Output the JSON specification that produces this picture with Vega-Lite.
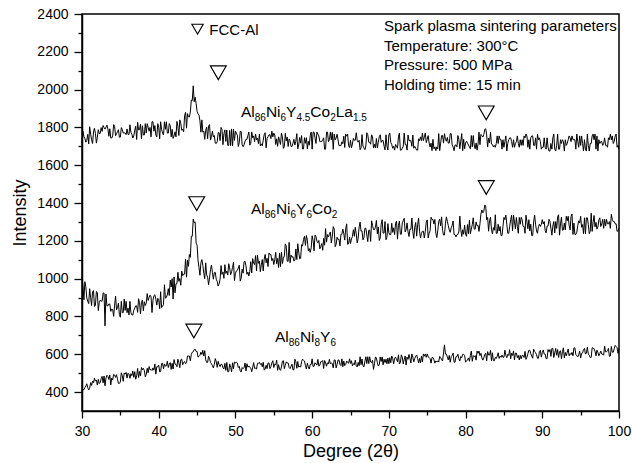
{
"$schema":"https://vega.github.io/schema/vega-lite/v6.json",
"width":537,"height":397,
"autosize":{"type":"none"},
"padding":{"left":82,"top":14,"right":13,"bottom":52},
"config":{"view":{"stroke":"black","strokeWidth":1.5},"font":"Liberation Sans",
"axis":{"domainColor":"black","domainWidth":1.5,"tickColor":"black","tickWidth":1.3,"labelColor":"black","titleColor":"black","grid":false,"labelFont":"Liberation Sans","titleFont":"Liberation Sans","titleFontWeight":"normal","labelFontSize":14,"titleFontSize":18,"labelFlush":false,"labelOverlap":false}},
"resolve":{"axis":{"x":"independent","y":"independent"}},
"datasets":{
"xrd":[
{"x":30,"a":1720,"b":1005,"c":395},{"x":30.25,"a":1751,"b":888,"c":412},{"x":30.5,"a":1722,"b":957,"c":432},{"x":30.75,"a":1763,"b":880,"c":423},
{"x":31,"a":1804,"b":947,"c":420},{"x":31.25,"a":1735,"b":858,"c":435},{"x":31.5,"a":1776,"b":937,"c":449},{"x":31.75,"a":1767,"b":860,"c":458},
{"x":32,"a":1748,"b":927,"c":437},{"x":32.25,"a":1768,"b":874,"c":445},{"x":32.5,"a":1799,"b":881,"c":471},{"x":32.75,"a":1810,"b":924,"c":449},
{"x":33,"a":1791,"b":750,"c":433},{"x":33.25,"a":1812,"b":856,"c":489},{"x":33.5,"a":1753,"b":866,"c":467},{"x":33.75,"a":1744,"b":827,"c":438},
{"x":34,"a":1755,"b":837,"c":464},{"x":34.25,"a":1806,"b":860,"c":490},{"x":34.5,"a":1767,"b":835,"c":492},{"x":34.75,"a":1788,"b":870,"c":446},
{"x":35,"a":1749,"b":796,"c":454},{"x":35.25,"a":1790,"b":820,"c":487},{"x":35.5,"a":1771,"b":892,"c":501},{"x":35.75,"a":1762,"b":880,"c":504},
{"x":36,"a":1763,"b":844,"c":500},{"x":36.25,"a":1814,"b":880,"c":473},{"x":36.5,"a":1764,"b":808,"c":487},{"x":36.75,"a":1755,"b":832,"c":478},
{"x":37,"a":1806,"b":856,"c":468},{"x":37.25,"a":1827,"b":822,"c":525},{"x":37.5,"a":1788,"b":873,"c":509},{"x":37.75,"a":1739,"b":875,"c":530},
{"x":38,"a":1760,"b":830,"c":526},{"x":38.25,"a":1820,"b":858,"c":481},{"x":38.5,"a":1820,"b":921,"c":526},{"x":38.75,"a":1780,"b":901,"c":535},
{"x":39,"a":1750,"b":905,"c":520},{"x":39.25,"a":1830,"b":886,"c":528},{"x":39.5,"a":1810,"b":915,"c":549},{"x":39.75,"a":1750,"b":860,"c":534},
{"x":40,"a":1800,"b":889,"c":543},{"x":40.25,"a":1830,"b":931,"c":509},{"x":40.5,"a":1770,"b":853,"c":553},{"x":40.75,"a":1830,"b":968,"c":549},
{"x":41,"a":1830,"b":902,"c":539},{"x":41.25,"a":1770,"b":947,"c":530},{"x":41.5,"a":1810,"b":992,"c":556},{"x":41.75,"a":1790,"b":1000,"c":552},
{"x":42,"a":1755,"b":1009,"c":572},{"x":42.25,"a":1750,"b":973,"c":546},{"x":42.5,"a":1805,"b":1034,"c":574},{"x":42.75,"a":1840,"b":1001,"c":529},
{"x":43,"a":1785,"b":1040,"c":575},{"x":43.25,"a":1777,"b":1024,"c":556},{"x":43.5,"a":1880,"b":1104,"c":550},{"x":43.75,"a":1873,"b":1098,"c":591},
{"x":44,"a":1855,"b":1128,"c":591},{"x":44.25,"a":1945,"b":1224,"c":599},{"x":44.5,"a":2020,"b":1315,"c":613},{"x":44.75,"a":1960,"b":1300,"c":627},
{"x":45,"a":1885,"b":1178,"c":615},{"x":45.25,"a":1865,"b":1060,"c":589},{"x":45.5,"a":1775,"b":1085,"c":611},{"x":45.75,"a":1775,"b":1070,"c":621},
{"x":46,"a":1737,"b":1000,"c":619},{"x":46.25,"a":1802,"b":1020,"c":557},{"x":46.5,"a":1807,"b":968,"c":590},{"x":46.75,"a":1733,"b":1048,"c":556},
{"x":47,"a":1780,"b":1033,"c":540},{"x":47.25,"a":1757,"b":1033,"c":547},{"x":47.5,"a":1715,"b":997,"c":561},{"x":47.75,"a":1772,"b":961,"c":563},
{"x":48,"a":1730,"b":997,"c":535},{"x":48.25,"a":1789,"b":1023,"c":546},{"x":48.5,"a":1767,"b":1002,"c":522},{"x":48.75,"a":1726,"b":1028,"c":515},
{"x":49,"a":1705,"b":1019,"c":508},{"x":49.25,"a":1784,"b":1057,"c":549},{"x":49.5,"a":1792,"b":1036,"c":507},{"x":49.75,"a":1791,"b":1086,"c":524},
{"x":50,"a":1780,"b":1029,"c":553},{"x":50.25,"a":1759,"b":1044,"c":554},{"x":50.5,"a":1719,"b":1071,"c":536},{"x":50.75,"a":1778,"b":1002,"c":506},
{"x":51,"a":1698,"b":1029,"c":524},{"x":51.25,"a":1727,"b":1092,"c":554},{"x":51.5,"a":1737,"b":1023,"c":550},{"x":51.75,"a":1776,"b":1014,"c":538},
{"x":52,"a":1716,"b":1090,"c":526},{"x":52.25,"a":1745,"b":1106,"c":532},{"x":52.5,"a":1725,"b":1074,"c":526},{"x":52.75,"a":1734,"b":1041,"c":522},
{"x":53,"a":1714,"b":1081,"c":552},{"x":53.25,"a":1703,"b":1037,"c":546},{"x":53.5,"a":1703,"b":1101,"c":534},{"x":53.75,"a":1762,"b":1104,"c":516},
{"x":54,"a":1692,"b":1084,"c":542},{"x":54.25,"a":1751,"b":1064,"c":554},{"x":54.5,"a":1761,"b":1128,"c":524},{"x":54.75,"a":1780,"b":1095,"c":554},
{"x":55,"a":1770,"b":1075,"c":530},{"x":55.25,"a":1710,"b":1139,"c":545},{"x":55.5,"a":1700,"b":1107,"c":515},{"x":55.75,"a":1730,"b":1136,"c":521},
{"x":56,"a":1770,"b":1140,"c":533},{"x":56.25,"a":1689,"b":1108,"c":566},{"x":56.5,"a":1769,"b":1184,"c":542},{"x":56.75,"a":1749,"b":1092,"c":554},
{"x":57,"a":1739,"b":1192,"c":530},{"x":57.25,"a":1699,"b":1125,"c":536},{"x":57.5,"a":1717,"b":1117,"c":518},{"x":57.75,"a":1707,"b":1097,"c":574},
{"x":58,"a":1767,"b":1101,"c":526},{"x":58.25,"a":1707,"b":1141,"c":532},{"x":58.5,"a":1717,"b":1108,"c":532},{"x":58.75,"a":1686,"b":1172,"c":574},
{"x":59,"a":1746,"b":1224,"c":564},{"x":59.25,"a":1746,"b":1228,"c":522},{"x":59.5,"a":1726,"b":1147,"c":534},{"x":59.75,"a":1756,"b":1139,"c":546},
{"x":60,"a":1685,"b":1227,"c":576},{"x":60.25,"a":1775,"b":1147,"c":537},{"x":60.5,"a":1715,"b":1222,"c":549},{"x":60.75,"a":1765,"b":1190,"c":573},
{"x":61,"a":1725,"b":1158,"c":543},{"x":61.25,"a":1725,"b":1186,"c":561},{"x":61.5,"a":1745,"b":1213,"c":525},{"x":61.75,"a":1685,"b":1265,"c":555},
{"x":62,"a":1775,"b":1233,"c":555},{"x":62.25,"a":1735,"b":1235,"c":573},{"x":62.5,"a":1734,"b":1189,"c":555},{"x":62.75,"a":1684,"b":1275,"c":528},
{"x":63,"a":1734,"b":1169,"c":570},{"x":63.25,"a":1764,"b":1219,"c":546},{"x":63.5,"a":1704,"b":1209,"c":570},{"x":63.75,"a":1704,"b":1235,"c":540},
{"x":64,"a":1714,"b":1262,"c":534},{"x":64.25,"a":1694,"b":1204,"c":540},{"x":64.5,"a":1754,"b":1290,"c":564},{"x":64.75,"a":1704,"b":1184,"c":552},
{"x":65,"a":1732,"b":1186,"c":552},{"x":65.25,"a":1712,"b":1223,"c":539},{"x":65.5,"a":1732,"b":1224,"c":545},{"x":65.75,"a":1772,"b":1237,"c":539},
{"x":66,"a":1722,"b":1214,"c":557},{"x":66.25,"a":1682,"b":1299,"c":587},{"x":66.5,"a":1762,"b":1253,"c":575},{"x":66.75,"a":1692,"b":1218,"c":533},
{"x":67,"a":1702,"b":1267,"c":587},{"x":67.25,"a":1762,"b":1196,"c":587},{"x":67.5,"a":1721,"b":1257,"c":587},{"x":67.75,"a":1761,"b":1306,"c":556},
{"x":68,"a":1691,"b":1259,"c":520},{"x":68.25,"a":1691,"b":1272,"c":586},{"x":68.5,"a":1691,"b":1237,"c":556},{"x":68.75,"a":1751,"b":1202,"c":544},
{"x":69,"a":1721,"b":1288,"c":562},{"x":69.25,"a":1731,"b":1241,"c":544},{"x":69.5,"a":1681,"b":1302,"c":556},{"x":69.75,"a":1701,"b":1219,"c":550},
{"x":70,"a":1760,"b":1244,"c":550},{"x":70.25,"a":1720,"b":1233,"c":555},{"x":70.5,"a":1690,"b":1245,"c":579},{"x":70.75,"a":1680,"b":1233,"c":579},
{"x":71,"a":1700,"b":1305,"c":573},{"x":71.25,"a":1750,"b":1281,"c":597},{"x":71.5,"a":1680,"b":1235,"c":555},{"x":71.75,"a":1690,"b":1295,"c":585},
{"x":72,"a":1770,"b":1319,"c":573},{"x":72.25,"a":1710,"b":1259,"c":543},{"x":72.5,"a":1760,"b":1247,"c":573},{"x":72.75,"a":1730,"b":1261,"c":578},
{"x":73,"a":1700,"b":1321,"c":602},{"x":73.25,"a":1690,"b":1213,"c":560},{"x":73.5,"a":1690,"b":1297,"c":590},{"x":73.75,"a":1680,"b":1285,"c":578},
{"x":74,"a":1730,"b":1251,"c":578},{"x":74.25,"a":1730,"b":1239,"c":590},{"x":74.5,"a":1730,"b":1251,"c":602},{"x":74.75,"a":1770,"b":1251,"c":602},
{"x":75,"a":1737,"b":1311,"c":602},{"x":75.25,"a":1717,"b":1241,"c":583},{"x":75.5,"a":1717,"b":1325,"c":553},{"x":75.75,"a":1737,"b":1313,"c":583},
{"x":76,"a":1697,"b":1313,"c":553},{"x":76.25,"a":1697,"b":1217,"c":559},{"x":76.5,"a":1767,"b":1303,"c":559},{"x":76.75,"a":1717,"b":1279,"c":583},
{"x":77,"a":1757,"b":1255,"c":565},{"x":77.25,"a":1767,"b":1231,"c":650},{"x":77.5,"a":1727,"b":1327,"c":601},{"x":77.75,"a":1717,"b":1281,"c":570},
{"x":78,"a":1767,"b":1245,"c":558},{"x":78.25,"a":1707,"b":1281,"c":594},{"x":78.5,"a":1677,"b":1233,"c":558},{"x":78.75,"a":1707,"b":1221,"c":588},
{"x":79,"a":1757,"b":1235,"c":600},{"x":79.25,"a":1687,"b":1331,"c":564},{"x":79.5,"a":1767,"b":1223,"c":582},{"x":79.75,"a":1737,"b":1235,"c":600},
{"x":80,"a":1717,"b":1235,"c":558},{"x":80.25,"a":1717,"b":1286,"c":569},{"x":80.5,"a":1697,"b":1310,"c":563},{"x":80.75,"a":1757,"b":1262,"c":617},
{"x":81,"a":1757,"b":1322,"c":593},{"x":81.25,"a":1687,"b":1262,"c":593},{"x":81.5,"a":1680,"b":1279,"c":617},{"x":81.75,"a":1775,"b":1250,"c":617},
{"x":82,"a":1763,"b":1342,"c":605},{"x":82.25,"a":1749,"b":1348,"c":569},{"x":82.5,"a":1790,"b":1389,"c":599},{"x":82.75,"a":1760,"b":1312,"c":566},
{"x":83,"a":1743,"b":1251,"c":596},{"x":83.25,"a":1775,"b":1325,"c":620},{"x":83.5,"a":1710,"b":1236,"c":608},{"x":83.75,"a":1705,"b":1256,"c":566},
{"x":84,"a":1715,"b":1240,"c":578},{"x":84.25,"a":1715,"b":1288,"c":608},{"x":84.5,"a":1735,"b":1276,"c":590},{"x":84.75,"a":1685,"b":1228,"c":596},
{"x":85,"a":1695,"b":1324,"c":584},{"x":85.25,"a":1755,"b":1336,"c":594},{"x":85.5,"a":1715,"b":1240,"c":600},{"x":85.75,"a":1745,"b":1276,"c":624},
{"x":86,"a":1725,"b":1336,"c":606},{"x":86.25,"a":1735,"b":1336,"c":618},{"x":86.5,"a":1715,"b":1264,"c":606},{"x":86.75,"a":1755,"b":1276,"c":582},
{"x":87,"a":1695,"b":1324,"c":570},{"x":87.25,"a":1705,"b":1324,"c":576},{"x":87.5,"a":1705,"b":1276,"c":594},{"x":87.75,"a":1745,"b":1240,"c":615},
{"x":88,"a":1755,"b":1300,"c":585},{"x":88.25,"a":1735,"b":1312,"c":621},{"x":88.5,"a":1745,"b":1288,"c":603},{"x":88.75,"a":1755,"b":1228,"c":579},
{"x":89,"a":1705,"b":1336,"c":615},{"x":89.25,"a":1685,"b":1252,"c":597},{"x":89.5,"a":1735,"b":1276,"c":579},{"x":89.75,"a":1725,"b":1276,"c":621},
{"x":90,"a":1695,"b":1312,"c":609},{"x":90.25,"a":1745,"b":1302,"c":601},{"x":90.5,"a":1685,"b":1242,"c":577},{"x":90.75,"a":1695,"b":1278,"c":625},
{"x":91,"a":1675,"b":1302,"c":625},{"x":91.25,"a":1685,"b":1230,"c":631},{"x":91.5,"a":1765,"b":1302,"c":583},{"x":91.75,"a":1675,"b":1302,"c":631},
{"x":92,"a":1765,"b":1326,"c":625},{"x":92.25,"a":1685,"b":1230,"c":613},{"x":92.5,"a":1715,"b":1326,"c":577},{"x":92.75,"a":1725,"b":1258,"c":634},
{"x":93,"a":1735,"b":1258,"c":610},{"x":93.25,"a":1715,"b":1306,"c":610},{"x":93.5,"a":1755,"b":1282,"c":592},{"x":93.75,"a":1725,"b":1330,"c":598},
{"x":94,"a":1735,"b":1234,"c":592},{"x":94.25,"a":1735,"b":1234,"c":634},{"x":94.5,"a":1765,"b":1246,"c":592},{"x":94.75,"a":1695,"b":1306,"c":598},
{"x":95,"a":1705,"b":1330,"c":580},{"x":95.25,"a":1715,"b":1286,"c":607},{"x":95.5,"a":1735,"b":1322,"c":631},{"x":95.75,"a":1675,"b":1322,"c":607},
{"x":96,"a":1705,"b":1286,"c":601},{"x":96.25,"a":1715,"b":1250,"c":583},{"x":96.5,"a":1755,"b":1250,"c":634},{"x":96.75,"a":1735,"b":1334,"c":628},
{"x":97,"a":1685,"b":1298,"c":592},{"x":97.25,"a":1675,"b":1274,"c":610},{"x":97.5,"a":1715,"b":1322,"c":604},{"x":97.75,"a":1725,"b":1290,"c":601},
{"x":98,"a":1715,"b":1266,"c":595},{"x":98.25,"a":1705,"b":1278,"c":613},{"x":98.5,"a":1695,"b":1290,"c":619},{"x":98.75,"a":1735,"b":1302,"c":589},
{"x":99,"a":1735,"b":1340,"c":641},{"x":99.25,"a":1715,"b":1302,"c":611},{"x":99.5,"a":1755,"b":1290,"c":647},{"x":99.75,"a":1695,"b":1250,"c":635},
{"x":100,"a":1685,"b":1266,"c":629},
{"x":30.125,"a":1780,"b":963,"c":415},{"x":30.375,"a":1741,"b":984,"c":424},{"x":30.625,"a":1732,"b":897,"c":444},{"x":30.875,"a":1713,"b":868,"c":411},
{"x":31.125,"a":1764,"b":899,"c":450},{"x":31.375,"a":1715,"b":930,"c":459},{"x":31.625,"a":1796,"b":853,"c":473},{"x":31.875,"a":1717,"b":932,"c":464},
{"x":32.125,"a":1788,"b":831,"c":467},{"x":32.375,"a":1768,"b":886,"c":451},{"x":32.625,"a":1779,"b":881,"c":483},{"x":32.875,"a":1800,"b":924,"c":485},
{"x":33.125,"a":1801,"b":919,"c":475},{"x":33.375,"a":1792,"b":856,"c":483},{"x":33.625,"a":1793,"b":866,"c":491},{"x":33.875,"a":1744,"b":839,"c":474},
{"x":34.125,"a":1815,"b":801,"c":494},{"x":34.375,"a":1756,"b":908,"c":478},{"x":34.625,"a":1777,"b":847,"c":468},{"x":34.875,"a":1748,"b":810,"c":446},
{"x":35.125,"a":1799,"b":880,"c":502},{"x":35.375,"a":1770,"b":820,"c":457},{"x":35.625,"a":1771,"b":832,"c":495},{"x":35.875,"a":1792,"b":820,"c":474},
{"x":36.125,"a":1763,"b":808,"c":494},{"x":36.375,"a":1774,"b":820,"c":497},{"x":36.625,"a":1744,"b":808,"c":511},{"x":36.875,"a":1785,"b":844,"c":508},
{"x":37.125,"a":1736,"b":856,"c":486},{"x":37.375,"a":1787,"b":894,"c":477},{"x":37.625,"a":1818,"b":813,"c":485},{"x":37.875,"a":1809,"b":887,"c":518},
{"x":38.125,"a":1760,"b":878,"c":514},{"x":38.375,"a":1770,"b":870,"c":493},{"x":38.625,"a":1800,"b":885,"c":502},{"x":38.875,"a":1800,"b":913,"c":517},
{"x":39.125,"a":1830,"b":821,"c":514},{"x":39.375,"a":1780,"b":910,"c":516},{"x":39.625,"a":1760,"b":891,"c":495},{"x":39.875,"a":1820,"b":896,"c":534},
{"x":40.125,"a":1740,"b":841,"c":507},{"x":40.375,"a":1790,"b":847,"c":551},{"x":40.625,"a":1760,"b":865,"c":523},{"x":40.875,"a":1790,"b":896,"c":537},
{"x":41.125,"a":1770,"b":914,"c":563},{"x":41.375,"a":1820,"b":911,"c":548},{"x":41.625,"a":1750,"b":956,"c":520},{"x":41.875,"a":1742,"b":892,"c":522},
{"x":42.125,"a":1777,"b":925,"c":548},{"x":42.375,"a":1832,"b":973,"c":534},{"x":42.625,"a":1757,"b":986,"c":556},{"x":42.875,"a":1822,"b":965,"c":571},
{"x":43.125,"a":1791,"b":1016,"c":545},{"x":43.375,"a":1863,"b":1024,"c":562},{"x":43.625,"a":1796,"b":1008,"c":556},{"x":43.875,"a":1856,"b":1065,"c":591},
{"x":44.125,"a":1882,"b":1113,"c":565},{"x":44.375,"a":1942,"b":1224,"c":611},{"x":44.625,"a":1936,"b":1296,"c":625},{"x":44.875,"a":1927,"b":1188,"c":615},
{"x":45.125,"a":1872,"b":1098,"c":585},{"x":45.375,"a":1835,"b":1018,"c":595},{"x":45.625,"a":1840,"b":1101,"c":599},{"x":45.875,"a":1781,"b":1029,"c":591},
{"x":46.125,"a":1785,"b":1084,"c":571},{"x":46.375,"a":1740,"b":1008,"c":557},{"x":46.625,"a":1815,"b":1004,"c":578},{"x":46.875,"a":1751,"b":1072,"c":550},
{"x":47.125,"a":1750,"b":997,"c":528},{"x":47.375,"a":1717,"b":1033,"c":577},{"x":47.625,"a":1725,"b":985,"c":531},{"x":47.875,"a":1772,"b":973,"c":545},
{"x":48.125,"a":1800,"b":1069,"c":547},{"x":48.375,"a":1709,"b":1035,"c":528},{"x":48.625,"a":1787,"b":1074,"c":552},{"x":48.875,"a":1786,"b":1040,"c":557},
{"x":49.125,"a":1705,"b":1079,"c":508},{"x":49.375,"a":1704,"b":1021,"c":531},{"x":49.625,"a":1702,"b":1060,"c":555},{"x":49.875,"a":1731,"b":990,"c":560},
{"x":50.125,"a":1770,"b":1041,"c":559},{"x":50.375,"a":1699,"b":1056,"c":530},{"x":50.625,"a":1779,"b":987,"c":512},{"x":50.875,"a":1708,"b":1050,"c":530},
{"x":51.125,"a":1708,"b":1089,"c":530},{"x":51.375,"a":1737,"b":1068,"c":512},{"x":51.625,"a":1757,"b":1035,"c":532},{"x":51.875,"a":1706,"b":1038,"c":532},
{"x":52.125,"a":1776,"b":1030,"c":508},{"x":52.375,"a":1755,"b":1082,"c":556},{"x":52.625,"a":1765,"b":1122,"c":526},{"x":52.875,"a":1744,"b":1125,"c":552},
{"x":53.125,"a":1764,"b":1093,"c":558},{"x":53.375,"a":1713,"b":1073,"c":552},{"x":53.625,"a":1733,"b":1041,"c":558},{"x":53.875,"a":1772,"b":1128,"c":522},
{"x":54.125,"a":1742,"b":1108,"c":524},{"x":54.375,"a":1761,"b":1136,"c":554},{"x":54.625,"a":1741,"b":1128,"c":536},{"x":54.875,"a":1750,"b":1107,"c":566},
{"x":55.125,"a":1760,"b":1099,"c":548},{"x":55.375,"a":1740,"b":1079,"c":569},{"x":55.625,"a":1750,"b":1059,"c":545},{"x":55.875,"a":1710,"b":1064,"c":515},
{"x":56.125,"a":1750,"b":1080,"c":563},{"x":56.375,"a":1699,"b":1120,"c":524},{"x":56.625,"a":1729,"b":1172,"c":560},{"x":56.875,"a":1699,"b":1092,"c":554},
{"x":57.125,"a":1729,"b":1084,"c":524},{"x":57.375,"a":1699,"b":1113,"c":548},{"x":57.625,"a":1737,"b":1093,"c":518},{"x":57.875,"a":1727,"b":1157,"c":562},
{"x":58.125,"a":1687,"b":1185,"c":562},{"x":58.375,"a":1747,"b":1105,"c":538},{"x":58.625,"a":1757,"b":1180,"c":562},{"x":58.875,"a":1686,"b":1208,"c":568},
{"x":59.125,"a":1716,"b":1176,"c":540},{"x":59.375,"a":1686,"b":1204,"c":552},{"x":59.625,"a":1706,"b":1159,"c":522},{"x":59.875,"a":1776,"b":1163,"c":546},
{"x":60.125,"a":1775,"b":1203,"c":535},{"x":60.375,"a":1745,"b":1231,"c":555},{"x":60.625,"a":1775,"b":1198,"c":543},{"x":60.875,"a":1755,"b":1202,"c":537},
{"x":61.125,"a":1725,"b":1170,"c":561},{"x":61.375,"a":1735,"b":1150,"c":567},{"x":61.625,"a":1685,"b":1177,"c":567},{"x":61.875,"a":1775,"b":1193,"c":537},
{"x":62.125,"a":1725,"b":1221,"c":549},{"x":62.375,"a":1775,"b":1247,"c":549},{"x":62.625,"a":1774,"b":1225,"c":550},{"x":62.875,"a":1764,"b":1263,"c":570},
{"x":63.125,"a":1744,"b":1181,"c":528},{"x":63.375,"a":1734,"b":1207,"c":570},{"x":63.625,"a":1704,"b":1173,"c":546},{"x":63.875,"a":1724,"b":1235,"c":576},
{"x":64.125,"a":1754,"b":1238,"c":564},{"x":64.375,"a":1764,"b":1264,"c":546},{"x":64.625,"a":1764,"b":1182,"c":558},{"x":64.875,"a":1694,"b":1220,"c":576},
{"x":65.125,"a":1692,"b":1210,"c":566},{"x":65.375,"a":1742,"b":1259,"c":551},{"x":65.625,"a":1732,"b":1272,"c":569},{"x":65.875,"a":1732,"b":1189,"c":533},
{"x":66.125,"a":1732,"b":1274,"c":539},{"x":66.375,"a":1692,"b":1251,"c":545},{"x":66.625,"a":1702,"b":1205,"c":539},{"x":66.875,"a":1682,"b":1266,"c":563},
{"x":67.125,"a":1772,"b":1231,"c":551},{"x":67.375,"a":1722,"b":1256,"c":551},{"x":67.625,"a":1711,"b":1197,"c":559},{"x":67.875,"a":1751,"b":1282,"c":568},
{"x":68.125,"a":1711,"b":1259,"c":550},{"x":68.375,"a":1741,"b":1308,"c":580},{"x":68.625,"a":1721,"b":1273,"c":538},{"x":68.875,"a":1761,"b":1214,"c":586},
{"x":69.125,"a":1731,"b":1312,"c":586},{"x":69.375,"a":1701,"b":1241,"c":574},{"x":69.625,"a":1761,"b":1206,"c":574},{"x":69.875,"a":1681,"b":1291,"c":580},
{"x":70.125,"a":1770,"b":1232,"c":582},{"x":70.375,"a":1710,"b":1293,"c":591},{"x":70.625,"a":1700,"b":1269,"c":549},{"x":70.875,"a":1710,"b":1293,"c":585},
{"x":71.125,"a":1690,"b":1209,"c":561},{"x":71.375,"a":1770,"b":1305,"c":549},{"x":71.625,"a":1680,"b":1235,"c":597},{"x":71.875,"a":1700,"b":1307,"c":549},
{"x":72.125,"a":1710,"b":1247,"c":591},{"x":72.375,"a":1680,"b":1295,"c":585},{"x":72.625,"a":1730,"b":1223,"c":599},{"x":72.875,"a":1730,"b":1261,"c":554},
{"x":73.125,"a":1760,"b":1249,"c":584},{"x":73.375,"a":1700,"b":1273,"c":578},{"x":73.625,"a":1680,"b":1225,"c":596},{"x":73.875,"a":1740,"b":1321,"c":554},
{"x":74.125,"a":1750,"b":1215,"c":554},{"x":74.375,"a":1770,"b":1251,"c":560},{"x":74.625,"a":1750,"b":1215,"c":590},{"x":74.875,"a":1720,"b":1299,"c":584},
{"x":75.125,"a":1757,"b":1215,"c":586},{"x":75.375,"a":1697,"b":1253,"c":577},{"x":75.625,"a":1677,"b":1313,"c":583},{"x":75.875,"a":1687,"b":1289,"c":571},
{"x":76.125,"a":1677,"b":1241,"c":565},{"x":76.375,"a":1687,"b":1253,"c":565},{"x":76.625,"a":1677,"b":1315,"c":589},{"x":76.875,"a":1757,"b":1327,"c":571},
{"x":77.125,"a":1717,"b":1231,"c":607},{"x":77.375,"a":1737,"b":1291,"c":601},{"x":77.625,"a":1747,"b":1303,"c":585},{"x":77.875,"a":1717,"b":1257,"c":594},
{"x":78.125,"a":1767,"b":1269,"c":588},{"x":78.375,"a":1697,"b":1305,"c":606},{"x":78.625,"a":1707,"b":1233,"c":558},{"x":78.875,"a":1697,"b":1233,"c":588},
{"x":79.125,"a":1737,"b":1247,"c":576},{"x":79.375,"a":1727,"b":1259,"c":588},{"x":79.625,"a":1677,"b":1259,"c":600},{"x":79.875,"a":1687,"b":1283,"c":594},
{"x":80.125,"a":1727,"b":1224,"c":566},{"x":80.375,"a":1707,"b":1238,"c":581},{"x":80.625,"a":1687,"b":1238,"c":593},{"x":80.875,"a":1697,"b":1286,"c":563},
{"x":81.125,"a":1707,"b":1262,"c":587},{"x":81.375,"a":1718,"b":1300,"c":569},{"x":81.625,"a":1712,"b":1282,"c":605},{"x":81.875,"a":1709,"b":1290,"c":593},
{"x":82.125,"a":1756,"b":1363,"c":581},{"x":82.375,"a":1762,"b":1356,"c":581},{"x":82.625,"a":1793,"b":1386,"c":606},{"x":82.875,"a":1696,"b":1324,"c":614},
{"x":83.125,"a":1719,"b":1306,"c":596},{"x":83.375,"a":1712,"b":1262,"c":566},{"x":83.625,"a":1697,"b":1270,"c":566},{"x":83.875,"a":1695,"b":1338,"c":584},
{"x":84.125,"a":1755,"b":1240,"c":590},{"x":84.375,"a":1755,"b":1252,"c":578},{"x":84.625,"a":1735,"b":1228,"c":584},{"x":84.875,"a":1735,"b":1276,"c":584},
{"x":85.125,"a":1725,"b":1312,"c":622},{"x":85.375,"a":1675,"b":1288,"c":582},{"x":85.625,"a":1735,"b":1240,"c":594},{"x":85.875,"a":1745,"b":1312,"c":576},
{"x":86.125,"a":1695,"b":1252,"c":594},{"x":86.375,"a":1695,"b":1300,"c":570},{"x":86.625,"a":1725,"b":1324,"c":606},{"x":86.875,"a":1715,"b":1240,"c":594},
{"x":87.125,"a":1735,"b":1288,"c":594},{"x":87.375,"a":1735,"b":1312,"c":594},{"x":87.625,"a":1755,"b":1276,"c":583},{"x":87.875,"a":1765,"b":1336,"c":573},
{"x":88.125,"a":1695,"b":1264,"c":603},{"x":88.375,"a":1685,"b":1252,"c":621},{"x":88.625,"a":1755,"b":1228,"c":591},{"x":88.875,"a":1705,"b":1300,"c":627},
{"x":89.125,"a":1745,"b":1288,"c":609},{"x":89.375,"a":1765,"b":1240,"c":579},{"x":89.625,"a":1745,"b":1288,"c":615},{"x":89.875,"a":1685,"b":1288,"c":585},
{"x":90.125,"a":1695,"b":1289,"c":623},{"x":90.375,"a":1695,"b":1254,"c":601},{"x":90.625,"a":1745,"b":1278,"c":577},{"x":90.875,"a":1675,"b":1314,"c":613},
{"x":91.125,"a":1715,"b":1266,"c":589},{"x":91.375,"a":1745,"b":1278,"c":631},{"x":91.625,"a":1685,"b":1242,"c":607},{"x":91.875,"a":1705,"b":1266,"c":595},
{"x":92.125,"a":1685,"b":1338,"c":583},{"x":92.375,"a":1735,"b":1290,"c":619},{"x":92.625,"a":1735,"b":1256,"c":614},{"x":92.875,"a":1675,"b":1294,"c":580},
{"x":93.125,"a":1705,"b":1330,"c":592},{"x":93.375,"a":1735,"b":1330,"c":628},{"x":93.625,"a":1745,"b":1258,"c":604},{"x":93.875,"a":1755,"b":1342,"c":610},
{"x":94.125,"a":1735,"b":1294,"c":634},{"x":94.375,"a":1685,"b":1234,"c":598},{"x":94.625,"a":1725,"b":1282,"c":586},{"x":94.875,"a":1755,"b":1294,"c":616},
{"x":95.125,"a":1755,"b":1272,"c":605},{"x":95.375,"a":1675,"b":1238,"c":625},{"x":95.625,"a":1685,"b":1238,"c":601},{"x":95.875,"a":1765,"b":1322,"c":637},
{"x":96.125,"a":1675,"b":1238,"c":595},{"x":96.375,"a":1715,"b":1346,"c":584},{"x":96.625,"a":1765,"b":1298,"c":634},{"x":96.875,"a":1765,"b":1274,"c":616},
{"x":97.125,"a":1755,"b":1262,"c":622},{"x":97.375,"a":1735,"b":1310,"c":592},{"x":97.625,"a":1725,"b":1276,"c":617},{"x":97.875,"a":1705,"b":1314,"c":601},
{"x":98.125,"a":1745,"b":1314,"c":643},{"x":98.375,"a":1705,"b":1314,"c":613},{"x":98.625,"a":1745,"b":1290,"c":631},{"x":98.875,"a":1765,"b":1266,"c":591},
{"x":99.125,"a":1755,"b":1314,"c":611},{"x":99.375,"a":1725,"b":1302,"c":629},{"x":99.625,"a":1765,"b":1290,"c":641},{"x":99.875,"a":1705,"b":1254,"c":605}
],
"notes":[
{"x":69.37,"y":2312,"t":"Spark plasma sintering parameters"},
{"x":69.37,"y":2206,"t":"Temperature: 300°C"},
{"x":69.37,"y":2104,"t":"Pressure: 500 MPa"},
{"x":69.37,"y":1998,"t":"Holding time: 15 min"},
{"x":46.6,"y":2289,"t":"FCC-Al"}
],
"formula":[
{"x":50.726,"y":1857,"t":"Al","k":"m"},{"x":52.523,"y":1857,"t":"86","k":"s"},{"x":53.972,"y":1857,"t":"Ni","k":"m"},{"x":55.879,"y":1857,"t":"6","k":"s"},{"x":56.604,"y":1857,"t":"Y","k":"m"},{"x":57.952,"y":1857,"t":"4.5","k":"s"},{"x":59.764,"y":1857,"t":"Co","k":"m"},{"x":62.346,"y":1857,"t":"2","k":"s"},{"x":63.071,"y":1857,"t":"La","k":"m"},{"x":65.318,"y":1857,"t":"1.5","k":"s"},
{"x":52.03,"y":1340,"t":"Al","k":"m"},{"x":53.826,"y":1340,"t":"86","k":"s"},{"x":55.276,"y":1340,"t":"Ni","k":"m"},{"x":57.183,"y":1340,"t":"6","k":"s"},{"x":57.907,"y":1340,"t":"Y","k":"m"},{"x":59.255,"y":1340,"t":"6","k":"s"},{"x":59.98,"y":1340,"t":"Co","k":"m"},{"x":62.563,"y":1340,"t":"2","k":"s"},
{"x":55.159,"y":663,"t":"Al","k":"m"},{"x":56.955,"y":663,"t":"86","k":"s"},{"x":58.404,"y":663,"t":"Ni","k":"m"},{"x":60.311,"y":663,"t":"8","k":"s"},{"x":61.036,"y":663,"t":"Y","k":"m"},{"x":62.384,"y":663,"t":"6","k":"s"}
],
"peaks":[
{"x":47.77,"y":2089},{"x":82.69,"y":1877},{"x":44.95,"y":1397},{"x":82.7,"y":1482},{"x":44.58,"y":723}
],
"key":[{"x":45.06,"y":2320}]
},
"layer":[
{"data":{"name":"xrd"},
 "transform":[{"fold":["a","b","c"],"as":["curve","intensity"]}],
 "mark":{"type":"line","color":"black","strokeWidth":1},
 "encoding":{
  "x":{"field":"x","type":"quantitative","scale":{"domain":[30,100],"nice":false,"zero":false},
       "axis":{"orient":"bottom","values":[30,35,40,45,50,55,60,65,70,75,80,85,90,95,100],"tickSize":7,"labelPadding":6,"labelExpr":"datum.value % 10 === 0 ? datum.label : ''","title":"Degree (2θ)","titleY":45.5,"titleBaseline":"alphabetic",
               "encoding":{"ticks":{"y2":{"condition":{"test":"datum.value % 10 === 0","value":7},"value":4}}}}},
  "y":{"field":"intensity","type":"quantitative","scale":{"domain":[300,2400],"nice":false,"zero":false},
       "axis":{"orient":"left","format":"d","values":[400,500,600,700,800,900,1000,1100,1200,1300,1400,1500,1600,1700,1800,1900,2000,2100,2200,2300,2400],"tickSize":8,"labelPadding":6,"labelExpr":"datum.value % 200 === 0 ? datum.label : ''","title":"Intensity","titleX":-57,"titleY":198.5,"titleAngle":-90,"titleBaseline":"alphabetic","titleAlign":"center",
               "encoding":{"ticks":{"x2":{"condition":{"test":"datum.value % 200 === 0","value":-8},"value":-4}}}}},
  "detail":{"field":"curve","type":"nominal"},
  "order":{"field":"x","type":"quantitative"}
 }},
{"data":{"name":"peaks"},
 "mark":{"type":"point","shape":"triangle-down","filled":false,"stroke":"black","strokeWidth":1.2,"size":250,"opacity":1},
 "encoding":{
  "x":{"field":"x","type":"quantitative","axis":null},
  "y":{"field":"y","type":"quantitative","axis":null}
 }},
{"data":{"name":"key"},
 "mark":{"type":"point","shape":"triangle-down","filled":false,"stroke":"black","strokeWidth":1.1,"size":130,"opacity":1},
 "encoding":{
  "x":{"field":"x","type":"quantitative","axis":null},
  "y":{"field":"y","type":"quantitative","axis":null}
 }},
{"data":{"name":"notes"},
 "mark":{"type":"text","align":"left","baseline":"alphabetic","fontSize":15,"font":"Liberation Sans","color":"black"},
 "encoding":{
  "x":{"field":"x","type":"quantitative","axis":null},
  "y":{"field":"y","type":"quantitative","axis":null},
  "text":{"field":"t","type":"nominal"}
 }},
{"data":{"name":"formula"},
 "transform":[{"filter":"datum.k === 'm'"}],
 "mark":{"type":"text","align":"left","baseline":"alphabetic","fontSize":15.5,"font":"Liberation Sans","color":"black"},
 "encoding":{
  "x":{"field":"x","type":"quantitative","axis":null},
  "y":{"field":"y","type":"quantitative","axis":null},
  "text":{"field":"t","type":"nominal"}
 }},
{"data":{"name":"formula"},
 "transform":[{"filter":"datum.k === 's'"}],
 "mark":{"type":"text","align":"left","baseline":"alphabetic","fontSize":10,"dy":4,"font":"Liberation Sans","color":"black"},
 "encoding":{
  "x":{"field":"x","type":"quantitative","axis":null},
  "y":{"field":"y","type":"quantitative","axis":null},
  "text":{"field":"t","type":"nominal"}
 }}
]
}
